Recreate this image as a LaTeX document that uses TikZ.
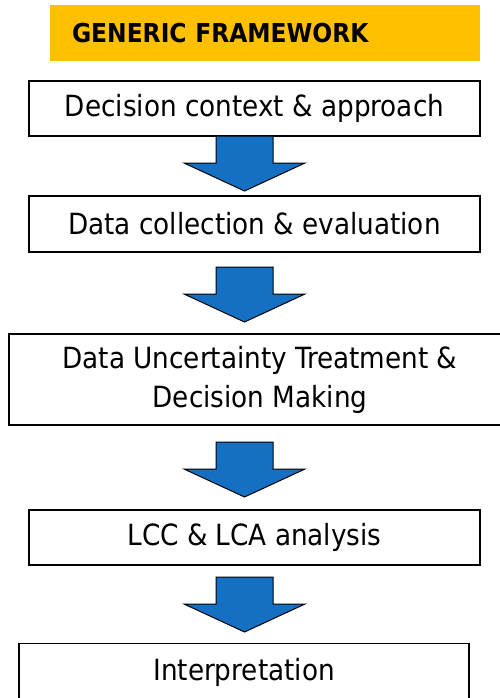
\documentclass[tikz,border=0pt]{standalone}
\usepackage{fontspec}
\setmainfont{DejaVu Sans Condensed}
\definecolor{framegold}{HTML}{FFC000}
\definecolor{arrowblue}{HTML}{1570C4}
\tikzset{>=latex,
  stage/.style={draw, line width=1.5pt, fill=white, inner sep=0pt, align=center, font=\fontsize{29.2}{39}\selectfont},
  blockarrow/.style={draw, line width=1pt, fill=arrowblue, line join=miter}}

\begin{document}
\begin{tikzpicture}[x=1pt, y=-1pt]
      \useasboundingbox (0,0) rectangle (500,698);
      \clip (0,0) rectangle (500,698);
      \node[fill=framegold, minimum width=430pt, minimum height=56pt, text width=386pt, inner xsep=22pt, align=left, font=\fontsize{26}{32}\selectfont\bfseries] (title) at (265,33) {GENERIC FRAMEWORK};
      \node[stage, minimum width=451pt, minimum height=55pt] (box1) at (254.5,108.5) {Decision context \& approach};
      \node[stage, minimum width=451pt, minimum height=56pt, below of=box1, node distance=115.5pt] (box2) {Data collection \& evaluation};
      \node[stage, minimum width=502pt, minimum height=91pt, below of=box2, node distance=155.5pt, xshift=5.5pt] (box3) {Data Uncertainty Treatment \&\\Decision Making};
      \node[stage, minimum width=451pt, minimum height=55pt, below of=box2, node distance=313.5pt] (box4) {LCC \& LCA analysis};
      \node[stage, minimum width=450pt, minimum height=57pt, below of=box4, node distance=134.5pt, xshift=-10.5pt] (box5) {Interpretation};
      \coordinate (ar1) at (244.5,136);
      \coordinate (ar2) at (244.5,267);
      \coordinate (ar3) at (244.5,442);
      \coordinate (ar4) at (244.5,577);
      \draw[blockarrow] (ar1) ++(-28.5,0) -- ++(57,0) -- ++(0,27) -- ++(32,0) -- ++(-60.5,28) -- ++(-60.5,-28) -- ++(32,0) -- cycle;
      \draw[blockarrow] (ar2) ++(-28.5,0) -- ++(57,0) -- ++(0,27) -- ++(32,0) -- ++(-60.5,28) -- ++(-60.5,-28) -- ++(32,0) -- cycle;
      \draw[blockarrow] (ar3) ++(-28.5,0) -- ++(57,0) -- ++(0,27) -- ++(32,0) -- ++(-60.5,28) -- ++(-60.5,-28) -- ++(32,0) -- cycle;
      \draw[blockarrow] (ar4) ++(-28.5,0) -- ++(57,0) -- ++(0,27) -- ++(32,0) -- ++(-60.5,28) -- ++(-60.5,-28) -- ++(32,0) -- cycle;
\end{tikzpicture}
\end{document}
